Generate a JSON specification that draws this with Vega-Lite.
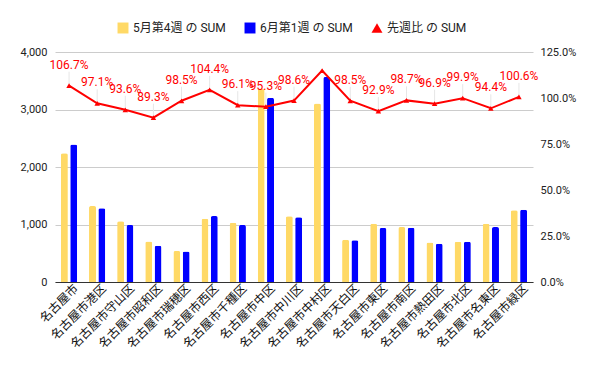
{
  "$schema": "https://vega.github.io/schema/vega-lite/v6.json",
  "width": 478,
  "height": 230,
  "autosize": {"type": "none"},
  "padding": {"left": 55, "top": 52, "right": 67, "bottom": 89},
  "background": "white",
  "config": {
    "font": "Roboto, Noto Sans CJK JP, sans-serif",
    "view": {"stroke": null},
    "axis": {"labelFont": "Roboto, Noto Sans CJK JP, sans-serif", "labelColor": "#222", "labelFontSize": 11}
  },
  "data": {
    "values": [
      {"区": "名古屋市", "5月第4週 の SUM": 2237, "6月第1週 の SUM": 2390, "先週比": 1.067},
      {"区": "名古屋市港区", "5月第4週 の SUM": 1322, "6月第1週 の SUM": 1284, "先週比": 0.971},
      {"区": "名古屋市守山区", "5月第4週 の SUM": 1058, "6月第1週 の SUM": 990, "先週比": 0.936},
      {"区": "名古屋市昭和区", "5月第4週 の SUM": 705, "6月第1週 の SUM": 630, "先週比": 0.893},
      {"区": "名古屋市瑞穂区", "5月第4週 の SUM": 540, "6月第1週 の SUM": 532, "先週比": 0.985},
      {"区": "名古屋市西区", "5月第4週 の SUM": 1098, "6月第1週 の SUM": 1146, "先週比": 1.044},
      {"区": "名古屋市千種区", "5月第4週 の SUM": 1032, "6月第1週 の SUM": 992, "先週比": 0.961},
      {"区": "名古屋市中区", "5月第4週 の SUM": 3360, "6月第1週 の SUM": 3202, "先週比": 0.953},
      {"区": "名古屋市中川区", "5月第4週 の SUM": 1142, "6月第1週 の SUM": 1126, "先週比": 0.986},
      {"区": "名古屋市中村区", "5月第4週 の SUM": 3104, "6月第1週 の SUM": 3566, "先週比": 1.149},
      {"区": "名古屋市天白区", "5月第4週 の SUM": 736, "6月第1週 の SUM": 725, "先週比": 0.985},
      {"区": "名古屋市東区", "5月第4週 の SUM": 1012, "6月第1週 の SUM": 940, "先週比": 0.929},
      {"区": "名古屋市南区", "5月第4週 の SUM": 955, "6月第1週 の SUM": 943, "先週比": 0.987},
      {"区": "名古屋市熱田区", "5月第4週 の SUM": 686, "6月第1週 の SUM": 665, "先週比": 0.969},
      {"区": "名古屋市北区", "5月第4週 の SUM": 702, "6月第1週 の SUM": 701, "先週比": 0.999},
      {"区": "名古屋市名東区", "5月第4週 の SUM": 1012, "6月第1週 の SUM": 955, "先週比": 0.944},
      {"区": "名古屋市緑区", "5月第4週 の SUM": 1250, "6月第1週 の SUM": 1258, "先週比": 1.006}
    ]
  },
  "encoding": {
    "x": {
      "field": "区", "type": "nominal", "sort": null,
      "scale": {"paddingInner": 0.42, "paddingOuter": 0.21},
      "axis": {"title": null, "labelAngle": -45, "labelAlign": "right", "labelBaseline": "middle", "ticks": false, "domainColor": "#333", "labelPadding": 4, "labelOffset": 7, "labelColor": "#111", "labelFontSize": 12}
    }
  },
  "layer": [
    {
      "transform": [{"fold": ["5月第4週 の SUM", "6月第1週 の SUM"], "as": ["系列", "値"]}],
      "mark": {"type": "bar", "cornerRadiusTopLeft": 2, "cornerRadiusTopRight": 2},
      "encoding": {
        "xOffset": {"field": "系列", "type": "nominal", "scale": {"paddingInner": 0.25}},
        "y": {
          "field": "値", "type": "quantitative",
          "scale": {"domain": [0, 4000]},
          "axis": {"title": null, "values": [0, 1000, 2000, 3000, 4000], "format": ",.0f", "domain": false, "ticks": false, "gridColor": "#cccccc", "labelPadding": 8, "orient": "left"}
        },
        "color": {
          "field": "系列", "type": "nominal",
          "scale": {"domain": ["5月第4週 の SUM", "6月第1週 の SUM", "先週比 の SUM"], "range": ["#ffd966", "#0000ff", "#ff0000"]},
          "legend": {
            "title": null, "orient": "none", "direction": "horizontal", "legendX": 62, "legendY": -30,
            "symbolType": "square", "symbolSize": 120, "symbolStrokeWidth": 0, "labelFontSize": 12, "labelColor": "#222", "columnPadding": 18, "symbolOffset": 0,
            "encode": {"symbols": {"update": {"shape": {"signal": "datum.label === '先週比 の SUM' ? 'triangle-up' : 'square'"}, "opacity": {"value": 1}}}}
          }
        }
      }
    },
    {
      "encoding": {
        "y": {
          "field": "先週比", "type": "quantitative",
          "scale": {"domain": [0, 1.25]},
          "axis": {"title": null, "orient": "right", "format": ".1%", "values": [0, 0.25, 0.5, 0.75, 1, 1.25], "grid": false, "domain": false, "ticks": false, "labelPadding": 7}
        }
      },
      "layer": [
        {
          "transform": [{"filter": "datum['区'] !== '名古屋市中村区'"}],
          "mark": {"type": "rule", "color": "#e6e6e6", "strokeWidth": 1, "y2Offset": -14},
          "encoding": {
            "y2": {"field": "先週比"}
          }
        },
        {
          "mark": {"type": "line", "strokeWidth": 2, "point": {"shape": "triangle-up", "size": 30, "filled": true, "color": "#ff0000"}},
          "encoding": {
            "color": {"datum": "先週比 の SUM"}
          }
        },
        {
          "transform": [{"filter": "datum['区'] !== '名古屋市中村区'"}],
          "mark": {"type": "text", "color": "#ff0000", "fontSize": 12, "dy": -21, "baseline": "middle"},
          "encoding": {
            "text": {"field": "先週比", "type": "quantitative", "format": ".1%"}
          }
        }
      ]
    }
  ],
  "resolve": {"scale": {"y": "independent"}}
}
